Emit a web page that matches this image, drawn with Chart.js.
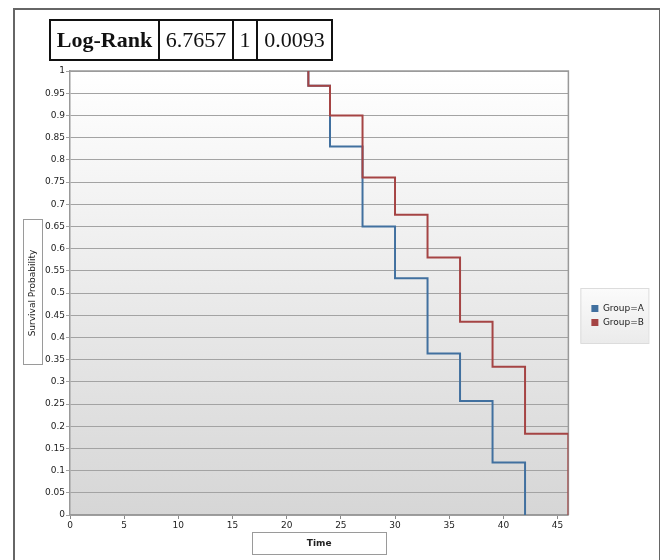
<!DOCTYPE html>
<html>
<head>
<meta charset="utf-8">
<script src="https://cdn.jsdelivr.net/npm/chart.js@4/dist/chart.umd.min.js"></script>
<style>
  body { margin: 0; background: #fff; }
  #wrap { position: relative; width: 660px; height: 560px; overflow: hidden; }
  #frame {
    position: absolute; left: 13px; top: 8px; width: 644px; height: 570px;
    border: 2px solid #666; pointer-events: none;
  }
  #stats {
    position: absolute; left: 49px; top: 19px; height: 42px;
    border-collapse: collapse; font-family: "Liberation Serif", "DejaVu Serif", serif;
    font-size: 22px; color: #111;
  }
  #stats td { border: 2px solid #111; padding: 0; text-align: center; height: 38px; line-height: 38px; }
  #stats td.lbl { font-weight: bold; font-size: 22px; }
</style>
</head>
<body>
<div id="wrap">
  <canvas id="km" width="660" height="560"></canvas>
  <div id="frame"></div>
  <table id="stats"><tr>
    <td class="lbl" style="width:107px">Log-Rank</td><td style="width:72px">6.7657</td><td style="width:22px">1</td><td style="width:73px">0.0093</td>
  </tr></table>
</div>
<script>
// Kaplan-Meier steps
const groupNames = ["Group=A", "Group=B"];
const timesA = [22, 22, 24, 27, 30, 33, 36, 39, 42];
const survA = [1, 0.967, 0.83, 0.65, 0.533, 0.364, 0.257, 0.118, 0];
const timesB = [22, 22, 24, 27, 30, 33, 36, 39, 42, 46];
const survB = [1, 0.967, 0.9, 0.76, 0.676, 0.58, 0.435, 0.334, 0.183, 0];

const blue = "#41709f";
const red = "#a54444";
const tickFont = { family: "DejaVu Sans", size: 9 };

const toPoints = (xs, ys) => xs.map((x, i) => ({ x: x, y: ys[i] }));

const decor = {
  id: "decor",
  beforeDraw(chart) {
    const { ctx, chartArea: a } = chart;
    ctx.save();
    // plot background gradient
    const g = ctx.createLinearGradient(0, a.top, 0, a.bottom);
    g.addColorStop(0, "#ffffff");
    g.addColorStop(1, "#d6d6d6");
    ctx.fillStyle = g;
    ctx.fillRect(a.left, a.top, a.right - a.left, a.bottom - a.top);

    // boxes around the axis titles
    ctx.fillStyle = "#ffffff";
    ctx.strokeStyle = "#9a9a9a";
    ctx.lineWidth = 1;
    const cy = Math.round((a.top + a.bottom) / 2);
    ctx.fillRect(23.5, cy - 73.5, 19, 145);
    ctx.strokeRect(23.5, cy - 73.5, 19, 145);
    const cx = (a.left + a.right) / 2;
    ctx.fillRect(Math.round(cx - 67) + 0.5, 532.5, 134, 22);
    ctx.strokeRect(Math.round(cx - 67) + 0.5, 532.5, 134, 22);

    // legend box
    const hb = chart.legend.legendHitBoxes;
    if (hb && hb.length) {
      const x0 = hb[0].left - 11;
      const y0 = hb[0].top - 16;
      const y1 = hb[hb.length - 1].top + hb[hb.length - 1].height + 16;
      const lg = ctx.createLinearGradient(0, y0, 0, y1);
      lg.addColorStop(0, "#fbfbfb");
      lg.addColorStop(1, "#ebebeb");
      ctx.fillStyle = lg;
      ctx.fillRect(x0, y0, 68, y1 - y0);
      ctx.strokeStyle = "#dcdcdc";
      ctx.strokeRect(x0 + 0.5, y0 + 0.5, 68, y1 - y0);
    }
    ctx.restore();
  },
  beforeDatasetsDraw(chart) {
    const { ctx, chartArea: a } = chart;
    ctx.save();
    ctx.strokeStyle = "#999";
    ctx.lineWidth = 1.5;
    ctx.beginPath();
    ctx.moveTo(a.left, a.top);
    ctx.lineTo(a.right, a.top);
    ctx.lineTo(a.right, a.bottom);
    ctx.stroke();
    ctx.restore();
  },
};

new Chart(document.getElementById("km"), {
  type: "line",
  data: {
    datasets: [
      {
        label: groupNames[0],
        data: toPoints(timesA, survA),
        borderColor: blue,
        backgroundColor: blue,
        borderWidth: 2,
        stepped: "before",
        pointRadius: 0,
        order: 1,
      },
      {
        label: groupNames[1],
        data: toPoints(timesB, survB),
        borderColor: red,
        backgroundColor: red,
        borderWidth: 2,
        stepped: "before",
        pointRadius: 0,
        order: 0,
      },
    ],
  },
  options: {
    responsive: false,
    animation: false,
    layout: { padding: { top: 71, right: 6, bottom: 0, left: 0 } },
    plugins: {
      tooltip: { enabled: false },
      legend: {
        position: "right",
        labels: {
          boxWidth: 7,
          boxHeight: 7,
          padding: 5,
          color: "#222",
          font: tickFont,
          sort: (a, b) => a.datasetIndex - b.datasetIndex,
          generateLabels: (chart) =>
            chart.data.datasets.map((d, i) => ({
              text: d.label,
              fillStyle: d.borderColor,
              strokeStyle: d.borderColor,
              lineWidth: 0,
              datasetIndex: i,
              fontColor: "#222",
            })),
        },
      },
    },
    scales: {
      x: {
        type: "linear",
        min: 0,
        max: 46,
        afterFit: (s) => { s.height = 45; },
        ticks: { stepSize: 5, includeBounds: false, color: "#222", font: tickFont, padding: 1, maxRotation: 0 },
        grid: { drawOnChartArea: false, drawTicks: true, tickLength: 4, color: "#888" },
        border: { color: "#999", width: 1.5 },
        title: {
          display: true,
          text: "Time",
          color: "#222",
          font: { family: "DejaVu Sans", size: 9, weight: "bold" },
          padding: { top: 0, bottom: 11 },
        },
      },
      y: {
        min: 0,
        max: 1,
        afterFit: (s) => { s.width = 70; },
        ticks: {
          stepSize: 0.05,
          color: "#222",
          font: tickFont,
          padding: 1,
          callback: (v) => String(+Number(v).toFixed(2)),
        },
        grid: { color: "#a3a3a3", lineWidth: 1, tickLength: 4 },
        border: { color: "#999", width: 1.5 },
        title: {
          display: true,
          text: "Survival Probability",
          color: "#222",
          font: { family: "DejaVu Sans", size: 9 },
          padding: { top: 27, bottom: 0 },
        },
      },
      // empty spacer between the plot and the legend
      gap: {
        type: "linear",
        position: "right",
        display: true,
        afterFit: (s) => { s.width = 18; },
        ticks: { display: false },
        grid: { display: false },
        border: { display: false },
      },
    },
  },
  plugins: [decor],
});
</script>
</body>
</html>
